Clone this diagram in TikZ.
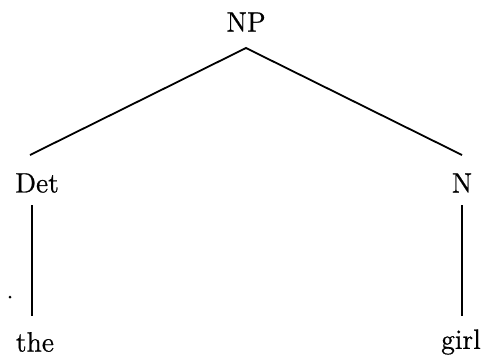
\documentclass[tikz,border=0pt]{standalone}
\usepackage{fontspec}
\newfontfamily\treefont{Latin Modern Roman}[FakeBold=0.8]
\begin{document}
\begin{tikzpicture}[x=0.5pt,y=-0.5pt,
  lbl/.style={inner sep=0pt,font=\treefont\fontsize{14}{16}\selectfont},
  edge/.style={line width=0.9pt}]
\useasboundingbox (0,0) rectangle (482,354);
% category and word nodes
\node[lbl] (np)  at (246,22)  {NP};
\node[lbl] (det) at (37,183)  {Det};
\node[lbl] (n)   at (462,183) {N};
\node[lbl] (the) at (35,342)  {the};
\node[lbl] (girl) at (461,342) {girl};
% branch end points
\coordinate (apex) at (246,48);
\coordinate (detT) at (30,155);
\coordinate (nT)   at (462,155);
\coordinate (detB) at (32,205);
\coordinate (theT) at (32,316);
\coordinate (nB)   at (462,205);
\coordinate (girlT) at (462,316);
\draw[edge] (detT) -- (apex) -- (nT);
\draw[edge] (detB) -- (theT);
\draw[edge] (nB) -- (girlT);
% small speck left of the determiner branch
\fill (10,297) circle (1.5);
\end{tikzpicture}
\end{document}
